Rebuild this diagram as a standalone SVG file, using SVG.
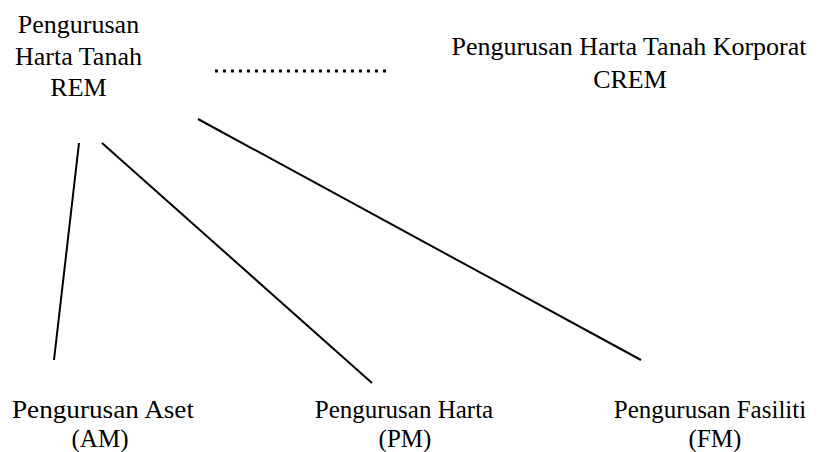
<svg xmlns="http://www.w3.org/2000/svg" width="820" height="452" viewBox="0 0 820 452">
<style>
text{font-family:"Liberation Serif","Times New Roman",serif;font-size:26px;fill:#000;text-anchor:middle}
.b{font-size:25px}
.ln{stroke:#000;stroke-width:2;fill:none}
.dot{stroke:#000;stroke-width:3;stroke-dasharray:3 5;fill:none}
</style>
<rect width="820" height="452" fill="#fff"/>
<g id="rem"><text x="78.5" y="33">Pengurusan</text><text x="78.5" y="65">Harta Tanah</text><text x="78.5" y="96">REM</text></g>
<g id="crem"><text x="629" y="55">Pengurusan Harta Tanah Korporat</text><text x="630" y="88">CREM</text></g>
<g id="am"><text class="b" x="103" y="418" textLength="182" lengthAdjust="spacingAndGlyphs">Pengurusan Aset</text><text class="b" x="100" y="447">(AM)</text></g>
<g id="pm"><text class="b" x="404" y="418">Pengurusan Harta</text><text class="b" x="405" y="447">(PM)</text></g>
<g id="fm"><text class="b" x="710" y="418">Pengurusan Fasiliti</text><text class="b" x="715" y="447">(FM)</text></g>
<g id="connectors">
<line class="dot" x1="215" y1="71" x2="389" y2="71"/>
<line class="ln" x1="79" y1="143" x2="54" y2="360"/>
<line class="ln" x1="102" y1="143" x2="372" y2="383"/>
<line class="ln" x1="198" y1="119" x2="641" y2="360"/>
</g>
</svg>
